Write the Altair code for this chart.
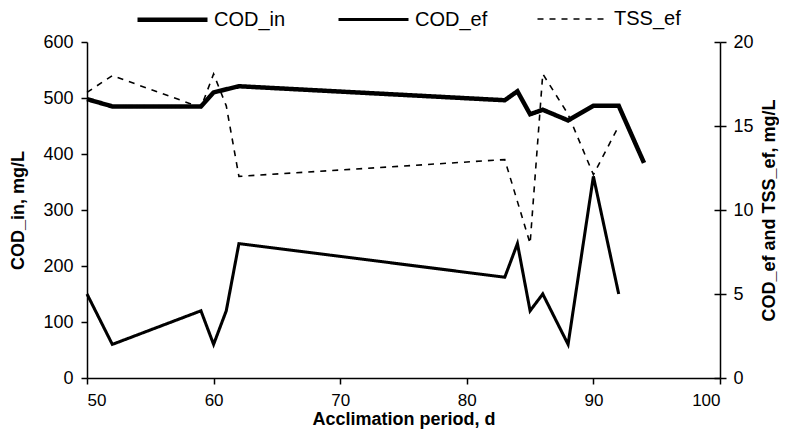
import altair as alt
import pandas as pd

# ---- data ----
days_cod_in = [50, 52, 59, 60, 62, 83, 84, 85, 86, 88, 90, 92, 94]
cod_in = [498, 485, 485, 510, 521, 496, 512, 471, 479, 460, 486, 486, 384]

days_cod_ef = [50, 52, 59, 60, 61, 62, 83, 84, 85, 86, 88, 90, 92]
cod_ef = [5, 2, 4, 2, 4, 8, 6, 8, 4, 5, 2, 12, 5]

days_tss_ef = [50, 52, 59, 60, 61, 62, 83, 85, 86, 88, 90, 92]
tss_ef = [17, 18, 16.1, 18.1, 16.2, 12, 13, 8, 18.1, 15.7, 12.1, 15]

series_names = ["COD_in", "COD_ef", "TSS_ef"]
x_ticks = [50, 60, 70, 80, 90, 100]
left_ticks = [0, 100, 200, 300, 400, 500, 600]
right_ticks = [0, 5, 10, 15, 20]

df_in = pd.DataFrame({"day": days_cod_in, "value": cod_in, "series": "COD_in"})
df_ef = pd.concat([
    pd.DataFrame({"day": days_cod_ef, "value": cod_ef, "series": "COD_ef"}),
    pd.DataFrame({"day": days_tss_ef, "value": tss_ef, "series": "TSS_ef"}),
], ignore_index=True)

FONT = "Liberation Sans"

axis_common = dict(
    grid=False, domainColor="black", domainWidth=1.5, tickColor="black",
    tickWidth=1.5, tickSize=6, labelFont=FONT, labelFontSize=18,
    labelColor="black", titleFont=FONT, titleFontSize=18,
    titleFontWeight="bold", titleColor="black",
)

x_axis_style = dict(axis_common)
x_axis_style["labelFontSize"] = 17

x_enc = alt.X(
    "day:Q",
    scale=alt.Scale(domain=[50, 100], nice=False, zero=False),
    axis=alt.Axis(title="Acclimation period, d", values=x_ticks,
                  labelPadding=8, titlePadding=2, **x_axis_style),
)

legend = alt.Legend(
    title=None, orient="none", legendX=48, legendY=-60,
    direction="horizontal", columns=3, symbolType="stroke",
    symbolSize=4900, symbolStrokeColor="black", labelFont=FONT,
    labelFontSize=20, labelColor="black", labelOffset=4, columnPadding=46,
    labelLimit=200,
)

dash_enc = alt.StrokeDash(
    "series:N",
    scale=alt.Scale(domain=series_names, range=[[1, 0], [1, 0], [6, 6]]),
    legend=legend,
)
width_enc = alt.StrokeWidth(
    "series:N",
    scale=alt.Scale(domain=series_names, range=[4.5, 1.6, 2.2]),
    legend=legend,
)

left = alt.Chart(df_in).mark_line(color="black").encode(
    x=x_enc,
    y=alt.Y("value:Q", scale=alt.Scale(domain=[0, 600], nice=False),
            axis=alt.Axis(title="COD_in, mg/L", orient="left", values=left_ticks,
                          labelPadding=8, titlePadding=15, **axis_common)),
    strokeDash=dash_enc,
    strokeWidth=width_enc,
    detail="series:N",
)

right = alt.Chart(df_ef).mark_line(color="black").encode(
    x=x_enc,
    y=alt.Y("value:Q", scale=alt.Scale(domain=[0, 20], nice=False),
            axis=alt.Axis(title="COD_ef and TSS_ef, mg/L", orient="right",
                          values=right_ticks, labelPadding=7, titlePadding=7,
                          titleAngle=270, titleBaseline="top", **axis_common)),
    strokeDash=dash_enc,
    strokeWidth=width_enc,
    detail="series:N",
)

# inner half of the crossing ticks on the right axis
inner = alt.Chart(df_ef).mark_line(opacity=0).encode(
    x=x_enc,
    y=alt.Y("value:Q", scale=alt.Scale(domain=[0, 20], nice=False),
            axis=alt.Axis(orient="right", values=right_ticks, offset=-6,
                          labels=False, domain=False, title=None,
                          grid=False, tickColor="black", tickWidth=1.5,
                          tickSize=6)),
    detail="series:N",
)

chart = alt.layer(left, right, inner).resolve_scale(y="independent").properties(
    width=633, height=336,
    autosize=alt.AutoSizeParams(type="none"),
    padding={"left": 79, "top": 34, "right": 59, "bottom": 52},
).configure_view(stroke=None)

chart.save("out.html", embed_options={"renderer": "svg", "actions": False})
